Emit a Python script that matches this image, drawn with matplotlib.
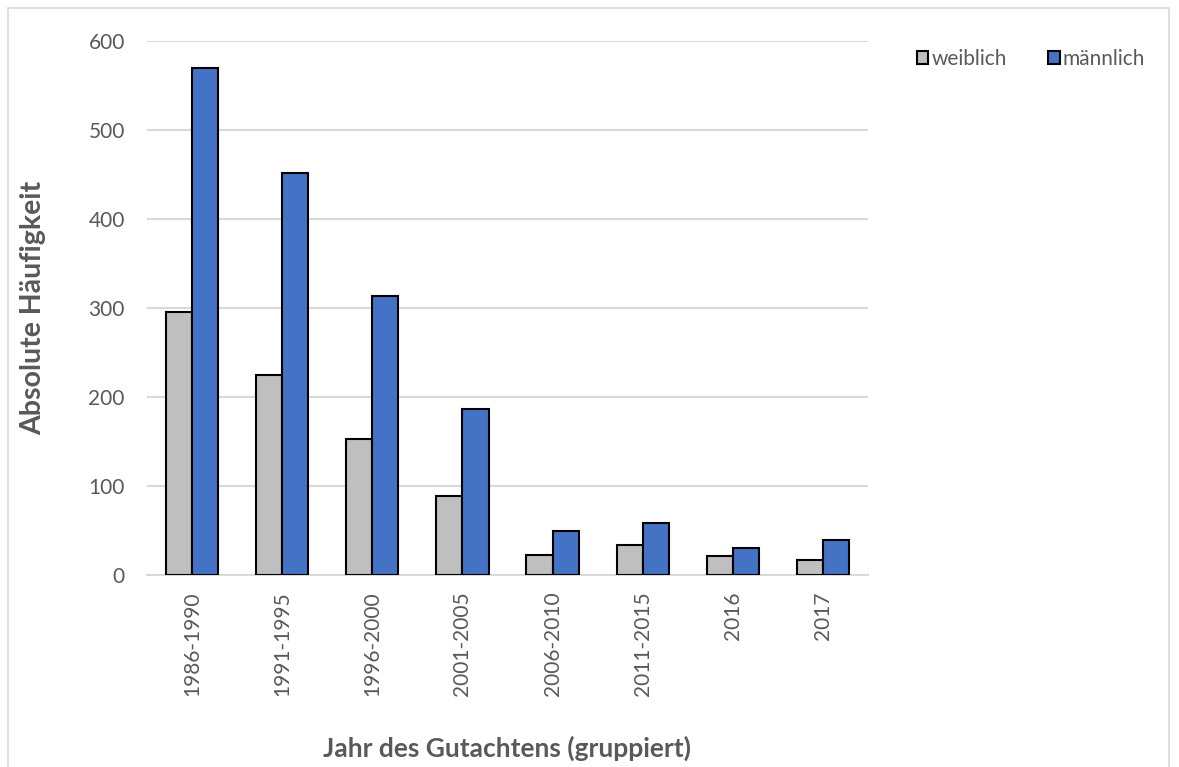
import matplotlib.pyplot as plt
import numpy as np
from matplotlib.patches import Rectangle

# Gutachten pro Zeitraum, getrennt nach Geschlecht
perioden = ['1986-1990', '1991-1995', '1996-2000', '2001-2005',
            '2006-2010', '2011-2015', '2016', '2017']
weiblich = [296, 225, 153, 89, 23, 34, 21, 17]
maennlich = [570, 452, 314, 187, 50, 58, 30, 39]

grau = '#bfbfbf'
blau = '#4472c4'
txt = '#595959'
plt.rcParams['font.family'] = ['Lato', 'DejaVu Sans']

W, H = 1179, 767
fig = plt.figure(figsize=(W / 100, H / 100), dpi=100)
ax = fig.add_axes([147 / W, 1 - 575 / H, (868 - 147) / W, (575 - 41) / H])

x = np.arange(len(perioden))
bw = 0.29
ax.bar(x - bw / 2, weiblich, bw, color=grau, edgecolor='black', lw=1.5,
       label='weiblich', zorder=3)
ax.bar(x + bw / 2, maennlich, bw, color=blau, edgecolor='black', lw=1.5,
       label='männlich', zorder=3)

ax.set_xlim(-0.5, len(perioden) - 0.5)
ax.set_ylim(0, 600)
ax.set_yticks(range(0, 601, 100))
ax.set_xticks(x)
ax.set_xticklabels(perioden, rotation=90, fontsize=15, color=txt)
ax.tick_params(axis='y', labelsize=15, labelcolor=txt, length=0, pad=16)
ax.tick_params(axis='x', length=0, pad=12)
ax.grid(axis='y', color='#d9d9d9', lw=1.5, zorder=0)
for s in ['top', 'right', 'left']:
    ax.spines[s].set_visible(False)
ax.spines['bottom'].set_color('#d9d9d9')
ax.spines['bottom'].set_linewidth(1.5)

fig.text(33 / W, 1 - 308 / H, 'Absolute Häufigkeit', rotation=90,
         ha='center', va='center', fontsize=20.5, fontweight='bold', color=txt)
fig.text(507 / W, 1 - 748 / H, 'Jahr des Gutachtens (gruppiert)',
         ha='center', va='center', fontsize=19, fontweight='bold', color=txt)

ax.legend(loc='upper left', bbox_to_anchor=(898 / W, 1 - 30 / H),
          bbox_transform=fig.transFigure, ncol=2, frameon=False,
          fontsize=15, labelcolor=txt, handlelength=0.55, handleheight=0.55,
          handletextpad=0.15, columnspacing=2.0)

# heller Rahmen um das Diagramm
fig.patches.append(Rectangle((8 / W, -0.01), (1169 - 8) / W, 1 - 8 / H + 0.01,
                             transform=fig.transFigure, fill=False,
                             edgecolor='#d9d9d9', lw=1.2))

fig.savefig('out.png', dpi=100)
